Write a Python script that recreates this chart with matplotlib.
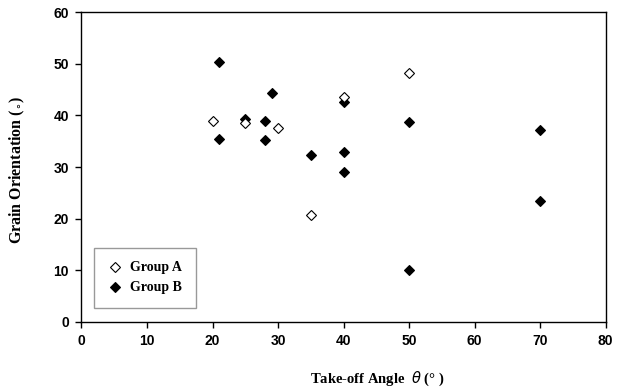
import matplotlib
matplotlib.use("Agg")
import matplotlib.pyplot as plt

# group A (open diamonds)
a_angle = [20, 25, 30, 35, 40, 50]
a_orient = [39.0, 38.5, 37.6, 20.6, 43.5, 48.3]

# group B (filled diamonds)
b_angle = [21, 21, 25, 28, 28, 29, 35, 40, 40, 40, 50, 50, 70, 70]
b_orient = [50.4, 35.5, 39.3, 38.9, 35.2, 44.4, 32.3, 42.6, 33.0, 29.0, 38.7, 10.0, 37.2, 23.5]

x_ticks = [0, 10, 20, 30, 40, 50, 60, 70, 80]
y_ticks = [0, 10, 20, 30, 40, 50, 60]

fig = plt.figure(figsize=(6.23, 3.91), dpi=100)
ax = fig.add_axes([0.1308, 0.1772, 0.8414, 0.7913])

hb, = ax.plot(b_angle, b_orient, ls="none", marker="D", ms=5.5,
              mfc="black", mec="black", mew=0.8, label="Group B", zorder=3)
ha, = ax.plot(a_angle, a_orient, ls="none", marker="D", ms=5.5,
              mfc="white", mec="black", mew=0.8, label="Group A", zorder=4)

ax.set_xlim(0, 80)
ax.set_ylim(0, 60)
ax.set_xticks(x_ticks)
ax.set_yticks(y_ticks)
ax.tick_params(direction="out", length=4, width=1, labelsize=10, pad=5)
for lab in ax.get_xticklabels() + ax.get_yticklabels():
    lab.set_fontfamily("Liberation Sans")
    lab.set_fontweight("bold")
for s in ax.spines.values():
    s.set_linewidth(1)
    s.set_color("black")

ax.set_ylabel(r"Grain Orientation ($_{\circ}$)", family="Liberation Serif",
              weight="bold", fontsize=11.5)
ax.yaxis.set_label_coords(-0.103, 0.49)
ax.set_xlabel(r"Take-off Angle  $\theta$ (° )", family="Liberation Serif",
              weight="bold", fontsize=10.5)
ax.xaxis.set_label_coords(0.565, -0.155)

leg = ax.legend(handles=[ha, hb], loc="lower left", bbox_to_anchor=(0.0238, 0.0433),
                borderaxespad=0, fancybox=False, edgecolor="#808080",
                prop={"family": "Liberation Serif", "weight": "bold", "size": 10},
                handlelength=1.0, handletextpad=0.6, borderpad=1.0, labelspacing=0.5)
leg.get_frame().set_linewidth(1)

fig.savefig("out.png", dpi=100)
